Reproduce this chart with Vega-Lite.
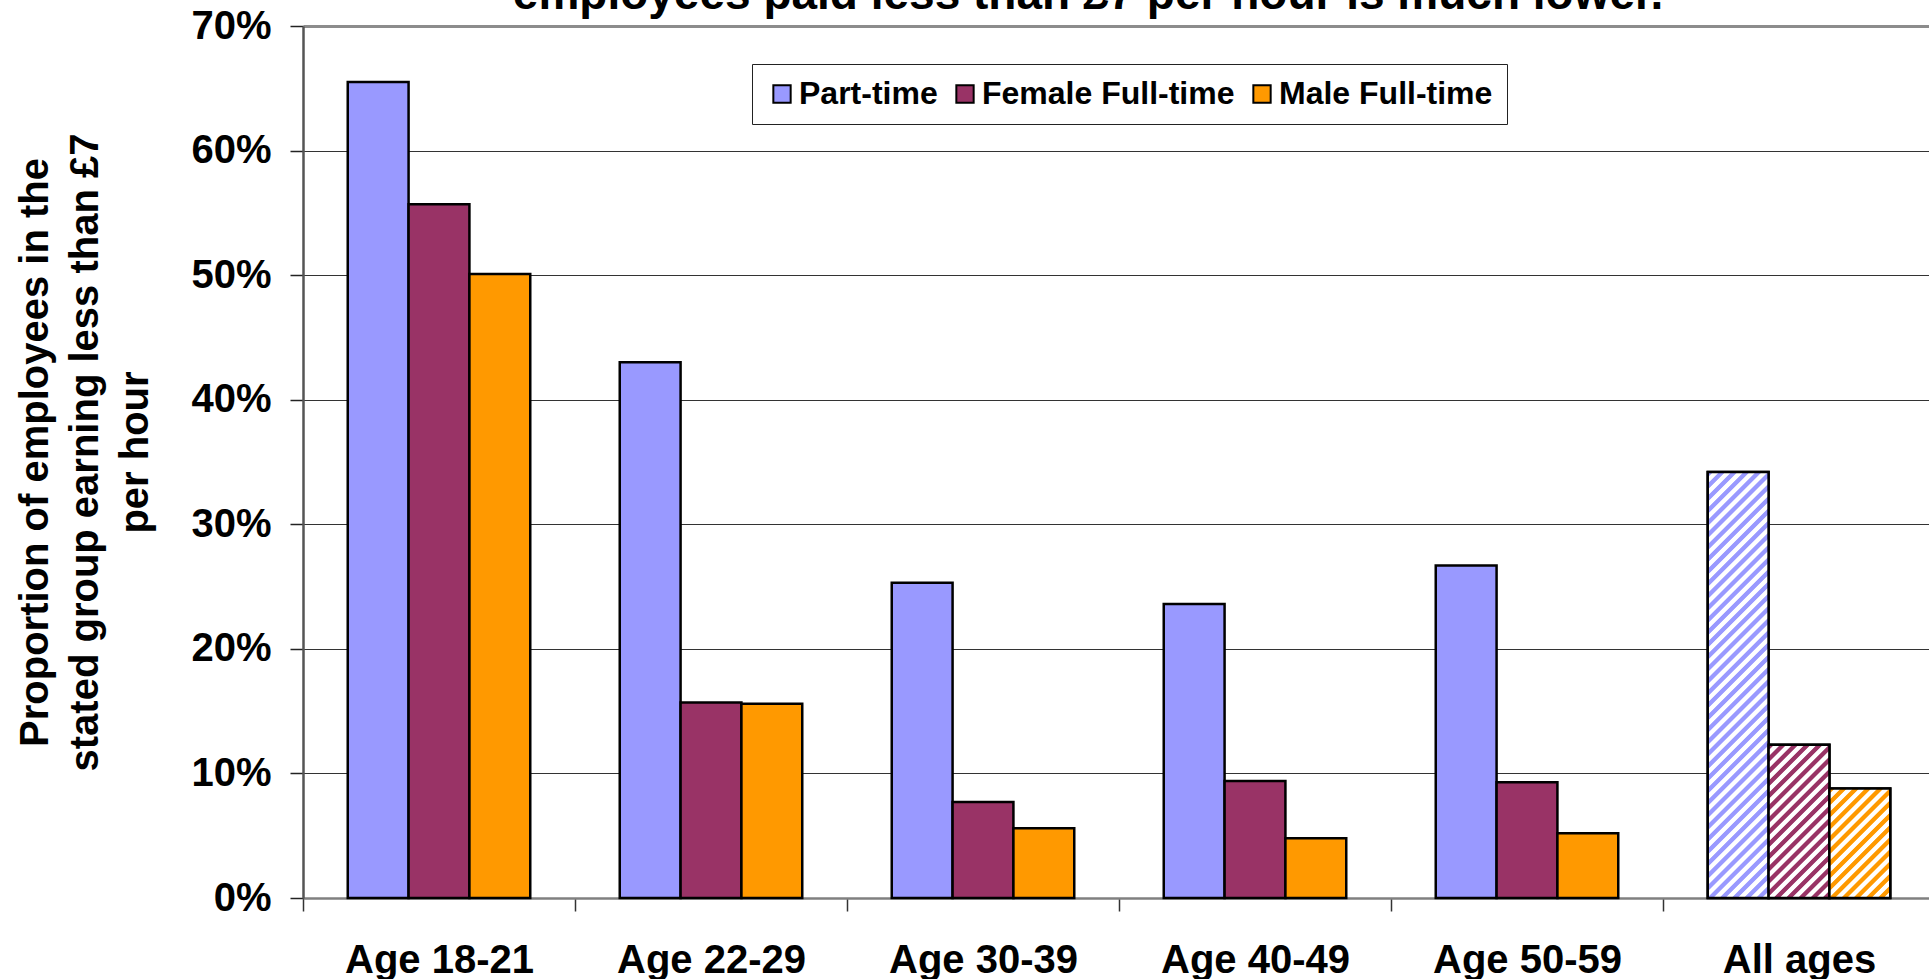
{
  "$schema": "https://vega.github.io/schema/vega-lite/v6.json",
  "autosize": "none",
  "width": 1626,
  "height": 872,
  "padding": {"left": 303, "top": 26, "right": 0, "bottom": 81},
  "config": {"view": {"stroke": null}, "font": "Liberation Sans"},
  "title": {"text": "employees paid less than £7 per hour is much lower.", "fontSize": 46, "font": "Liberation Sans", "fontWeight": "bold", "color": "black", "anchor": "middle", "frame": "group", "baseline": "alphabetic", "offset": 0, "dy": 49, "dx": -28},
  "data": {"values": [
    {"age": "Age 18-21", "series": "Part-time", "value": 0.655},
    {"age": "Age 18-21", "series": "Female Full-time", "value": 0.557},
    {"age": "Age 18-21", "series": "Male Full-time", "value": 0.501},
    {"age": "Age 22-29", "series": "Part-time", "value": 0.430},
    {"age": "Age 22-29", "series": "Female Full-time", "value": 0.157},
    {"age": "Age 22-29", "series": "Male Full-time", "value": 0.156},
    {"age": "Age 30-39", "series": "Part-time", "value": 0.253},
    {"age": "Age 30-39", "series": "Female Full-time", "value": 0.077},
    {"age": "Age 30-39", "series": "Male Full-time", "value": 0.056},
    {"age": "Age 40-49", "series": "Part-time", "value": 0.236},
    {"age": "Age 40-49", "series": "Female Full-time", "value": 0.094},
    {"age": "Age 40-49", "series": "Male Full-time", "value": 0.048},
    {"age": "Age 50-59", "series": "Part-time", "value": 0.267},
    {"age": "Age 50-59", "series": "Female Full-time", "value": 0.093},
    {"age": "Age 50-59", "series": "Male Full-time", "value": 0.052},
    {"age": "All ages", "series": "Part-time", "value": 0.342},
    {"age": "All ages", "series": "Female Full-time", "value": 0.123},
    {"age": "All ages", "series": "Male Full-time", "value": 0.088}
  ]},
  "encoding": {
    "x": {"field": "age", "type": "nominal", "sort": null,
      "scale": {"domain": ["Age 18-21", "Age 22-29", "Age 30-39", "Age 40-49", "Age 50-59", "All ages"], "range": [0, 1632], "paddingInner": 0, "paddingOuter": 0},
      "axis": {"title": null, "labelFontSize": 40, "labelFontWeight": "bold", "labelColor": "black", "labelPadding": 29, "labelAngle": 0, "labelLimit": 0, "tickSize": 13, "tickColor": "#333333", "tickWidth": 1.5, "tickBand": "extent", "domainColor": "#808080", "domainWidth": 2.5, "grid": false}},
    "xOffset": {"field": "series", "type": "nominal", "sort": null,
      "scale": {"domain": ["Part-time", "Female Full-time", "Male Full-time"], "paddingInner": 0, "paddingOuter": 0.7355}},
    "y": {"field": "value", "type": "quantitative",
      "scale": {"domain": [0, 0.7], "nice": false, "zero": true},
      "axis": {"values": [0, 0.1, 0.2, 0.3, 0.4, 0.5, 0.6, 0.7], "format": ".0%", "labelFontSize": 40, "labelFontWeight": "bold", "labelColor": "black", "labelPadding": 19, "tickSize": 13, "tickColor": "#222222", "tickWidth": 1.5, "domainColor": "#555555", "domainWidth": 2.5,
        "grid": true,
        "gridColor": {"condition": {"test": "datum.value >= 0.7", "value": "#8c8c8c"}, "value": "#333333"},
        "gridWidth": {"condition": {"test": "datum.value >= 0.7", "value": 3}, "value": 1.2},
        "title": ["Proportion of employees in the", "stated group earning less than £7", "per hour"],
        "titleFontSize": 40, "titleFontWeight": "bold", "titleColor": "black", "titleLineHeight": 50, "titleAngle": -90, "titleAlign": "center", "titleBaseline": "alphabetic", "titleX": -256, "titleY": 426}}
  },
  "layer": [
    {
      "mark": {"type": "bar", "stroke": "black", "strokeWidth": 2.5},
      "encoding": {
        "color": {"field": "series", "type": "nominal", "sort": null,
          "scale": {"domain": ["Part-time", "Female Full-time", "Male Full-time"], "range": ["#9999ff", "#993366", "#ff9900"]},
          "legend": {"orient": "none", "legendX": 449, "legendY": 38, "direction": "horizontal", "title": null, "symbolType": "square", "symbolSize": 300, "symbolStrokeColor": "black", "symbolStrokeWidth": 2, "symbolOpacity": 1, "labelFontSize": 32, "labelFontWeight": "bold", "labelColor": "black", "labelOffset": 1, "labelLimit": 0, "columnPadding": 11, "padding": 14, "strokeColor": "#222222", "fillColor": "white"}}
      }
    },
    {
      "transform": [{"filter": "datum.age === 'All ages' && datum.series === 'Part-time'"}],
      "mark": {"type": "bar", "stroke": "black", "strokeWidth": 2.5, "fill": {"gradient": "linear", "x1": 0, "y1": 0, "x2": 0.15991, "y2": 1.11996, "stops": [
        {"offset": 0, "color": "#9999ff"}, {"offset": 0.01, "color": "#9999ff"}, {"offset": 0.0125, "color": "#ffffff"}, {"offset": 0.0225, "color": "#ffffff"},
        {"offset": 0.025, "color": "#9999ff"}, {"offset": 0.035, "color": "#9999ff"}, {"offset": 0.0375, "color": "#ffffff"}, {"offset": 0.0475, "color": "#ffffff"},
        {"offset": 0.05, "color": "#9999ff"}, {"offset": 0.06, "color": "#9999ff"}, {"offset": 0.0625, "color": "#ffffff"}, {"offset": 0.0725, "color": "#ffffff"},
        {"offset": 0.075, "color": "#9999ff"}, {"offset": 0.085, "color": "#9999ff"}, {"offset": 0.0875, "color": "#ffffff"}, {"offset": 0.0975, "color": "#ffffff"},
        {"offset": 0.1, "color": "#9999ff"}, {"offset": 0.11, "color": "#9999ff"}, {"offset": 0.1125, "color": "#ffffff"}, {"offset": 0.1225, "color": "#ffffff"},
        {"offset": 0.125, "color": "#9999ff"}, {"offset": 0.135, "color": "#9999ff"}, {"offset": 0.1375, "color": "#ffffff"}, {"offset": 0.1475, "color": "#ffffff"},
        {"offset": 0.15, "color": "#9999ff"}, {"offset": 0.16, "color": "#9999ff"}, {"offset": 0.1625, "color": "#ffffff"}, {"offset": 0.1725, "color": "#ffffff"},
        {"offset": 0.175, "color": "#9999ff"}, {"offset": 0.185, "color": "#9999ff"}, {"offset": 0.1875, "color": "#ffffff"}, {"offset": 0.1975, "color": "#ffffff"},
        {"offset": 0.2, "color": "#9999ff"}, {"offset": 0.21, "color": "#9999ff"}, {"offset": 0.2125, "color": "#ffffff"}, {"offset": 0.2225, "color": "#ffffff"},
        {"offset": 0.225, "color": "#9999ff"}, {"offset": 0.235, "color": "#9999ff"}, {"offset": 0.2375, "color": "#ffffff"}, {"offset": 0.2475, "color": "#ffffff"},
        {"offset": 0.25, "color": "#9999ff"}, {"offset": 0.26, "color": "#9999ff"}, {"offset": 0.2625, "color": "#ffffff"}, {"offset": 0.2725, "color": "#ffffff"},
        {"offset": 0.275, "color": "#9999ff"}, {"offset": 0.285, "color": "#9999ff"}, {"offset": 0.2875, "color": "#ffffff"}, {"offset": 0.2975, "color": "#ffffff"},
        {"offset": 0.3, "color": "#9999ff"}, {"offset": 0.31, "color": "#9999ff"}, {"offset": 0.3125, "color": "#ffffff"}, {"offset": 0.3225, "color": "#ffffff"},
        {"offset": 0.325, "color": "#9999ff"}, {"offset": 0.335, "color": "#9999ff"}, {"offset": 0.3375, "color": "#ffffff"}, {"offset": 0.3475, "color": "#ffffff"},
        {"offset": 0.35, "color": "#9999ff"}, {"offset": 0.36, "color": "#9999ff"}, {"offset": 0.3625, "color": "#ffffff"}, {"offset": 0.3725, "color": "#ffffff"},
        {"offset": 0.375, "color": "#9999ff"}, {"offset": 0.385, "color": "#9999ff"}, {"offset": 0.3875, "color": "#ffffff"}, {"offset": 0.3975, "color": "#ffffff"},
        {"offset": 0.4, "color": "#9999ff"}, {"offset": 0.41, "color": "#9999ff"}, {"offset": 0.4125, "color": "#ffffff"}, {"offset": 0.4225, "color": "#ffffff"},
        {"offset": 0.425, "color": "#9999ff"}, {"offset": 0.435, "color": "#9999ff"}, {"offset": 0.4375, "color": "#ffffff"}, {"offset": 0.4475, "color": "#ffffff"},
        {"offset": 0.45, "color": "#9999ff"}, {"offset": 0.46, "color": "#9999ff"}, {"offset": 0.4625, "color": "#ffffff"}, {"offset": 0.4725, "color": "#ffffff"},
        {"offset": 0.475, "color": "#9999ff"}, {"offset": 0.485, "color": "#9999ff"}, {"offset": 0.4875, "color": "#ffffff"}, {"offset": 0.4975, "color": "#ffffff"},
        {"offset": 0.5, "color": "#9999ff"}, {"offset": 0.51, "color": "#9999ff"}, {"offset": 0.5125, "color": "#ffffff"}, {"offset": 0.5225, "color": "#ffffff"},
        {"offset": 0.525, "color": "#9999ff"}, {"offset": 0.535, "color": "#9999ff"}, {"offset": 0.5375, "color": "#ffffff"}, {"offset": 0.5475, "color": "#ffffff"},
        {"offset": 0.55, "color": "#9999ff"}, {"offset": 0.56, "color": "#9999ff"}, {"offset": 0.5625, "color": "#ffffff"}, {"offset": 0.5725, "color": "#ffffff"},
        {"offset": 0.575, "color": "#9999ff"}, {"offset": 0.585, "color": "#9999ff"}, {"offset": 0.5875, "color": "#ffffff"}, {"offset": 0.5975, "color": "#ffffff"},
        {"offset": 0.6, "color": "#9999ff"}, {"offset": 0.61, "color": "#9999ff"}, {"offset": 0.6125, "color": "#ffffff"}, {"offset": 0.6225, "color": "#ffffff"},
        {"offset": 0.625, "color": "#9999ff"}, {"offset": 0.635, "color": "#9999ff"}, {"offset": 0.6375, "color": "#ffffff"}, {"offset": 0.6475, "color": "#ffffff"},
        {"offset": 0.65, "color": "#9999ff"}, {"offset": 0.66, "color": "#9999ff"}, {"offset": 0.6625, "color": "#ffffff"}, {"offset": 0.6725, "color": "#ffffff"},
        {"offset": 0.675, "color": "#9999ff"}, {"offset": 0.685, "color": "#9999ff"}, {"offset": 0.6875, "color": "#ffffff"}, {"offset": 0.6975, "color": "#ffffff"},
        {"offset": 0.7, "color": "#9999ff"}, {"offset": 0.71, "color": "#9999ff"}, {"offset": 0.7125, "color": "#ffffff"}, {"offset": 0.7225, "color": "#ffffff"},
        {"offset": 0.725, "color": "#9999ff"}, {"offset": 0.735, "color": "#9999ff"}, {"offset": 0.7375, "color": "#ffffff"}, {"offset": 0.7475, "color": "#ffffff"},
        {"offset": 0.75, "color": "#9999ff"}, {"offset": 0.76, "color": "#9999ff"}, {"offset": 0.7625, "color": "#ffffff"}, {"offset": 0.7725, "color": "#ffffff"},
        {"offset": 0.775, "color": "#9999ff"}, {"offset": 0.785, "color": "#9999ff"}, {"offset": 0.7875, "color": "#ffffff"}, {"offset": 0.7975, "color": "#ffffff"},
        {"offset": 0.8, "color": "#9999ff"}, {"offset": 0.81, "color": "#9999ff"}, {"offset": 0.8125, "color": "#ffffff"}, {"offset": 0.8225, "color": "#ffffff"},
        {"offset": 0.825, "color": "#9999ff"}, {"offset": 0.835, "color": "#9999ff"}, {"offset": 0.8375, "color": "#ffffff"}, {"offset": 0.8475, "color": "#ffffff"},
        {"offset": 0.85, "color": "#9999ff"}, {"offset": 0.86, "color": "#9999ff"}, {"offset": 0.8625, "color": "#ffffff"}, {"offset": 0.8725, "color": "#ffffff"},
        {"offset": 0.875, "color": "#9999ff"}, {"offset": 0.885, "color": "#9999ff"}, {"offset": 0.8875, "color": "#ffffff"}, {"offset": 0.8975, "color": "#ffffff"},
        {"offset": 0.9, "color": "#9999ff"}, {"offset": 0.91, "color": "#9999ff"}, {"offset": 0.9125, "color": "#ffffff"}, {"offset": 0.9225, "color": "#ffffff"},
        {"offset": 0.925, "color": "#9999ff"}, {"offset": 0.935, "color": "#9999ff"}, {"offset": 0.9375, "color": "#ffffff"}, {"offset": 0.9475, "color": "#ffffff"},
        {"offset": 0.95, "color": "#9999ff"}, {"offset": 0.96, "color": "#9999ff"}, {"offset": 0.9625, "color": "#ffffff"}, {"offset": 0.9725, "color": "#ffffff"},
        {"offset": 0.975, "color": "#9999ff"}, {"offset": 0.985, "color": "#9999ff"}, {"offset": 0.9875, "color": "#ffffff"}, {"offset": 0.9975, "color": "#ffffff"},
        {"offset": 1, "color": "#9999ff"}
      ]}}
    },
    {
      "transform": [{"filter": "datum.age === 'All ages' && datum.series === 'Female Full-time'"}],
      "mark": {"type": "bar", "stroke": "black", "strokeWidth": 2.5, "fill": {"gradient": "linear", "x1": 0, "y1": 0, "x2": 0.4792, "y2": 1.20681, "stops": [
        {"offset": 0, "color": "#993366"}, {"offset": 0.0228, "color": "#993366"}, {"offset": 0.0285, "color": "#ffffff"}, {"offset": 0.0513, "color": "#ffffff"},
        {"offset": 0.057, "color": "#993366"}, {"offset": 0.0798, "color": "#993366"}, {"offset": 0.0855, "color": "#ffffff"}, {"offset": 0.1083, "color": "#ffffff"},
        {"offset": 0.114, "color": "#993366"}, {"offset": 0.1368, "color": "#993366"}, {"offset": 0.1425, "color": "#ffffff"}, {"offset": 0.1653, "color": "#ffffff"},
        {"offset": 0.171, "color": "#993366"}, {"offset": 0.1938, "color": "#993366"}, {"offset": 0.1995, "color": "#ffffff"}, {"offset": 0.2223, "color": "#ffffff"},
        {"offset": 0.228, "color": "#993366"}, {"offset": 0.2508, "color": "#993366"}, {"offset": 0.2565, "color": "#ffffff"}, {"offset": 0.2793, "color": "#ffffff"},
        {"offset": 0.285, "color": "#993366"}, {"offset": 0.3078, "color": "#993366"}, {"offset": 0.3135, "color": "#ffffff"}, {"offset": 0.3363, "color": "#ffffff"},
        {"offset": 0.342, "color": "#993366"}, {"offset": 0.3648, "color": "#993366"}, {"offset": 0.3705, "color": "#ffffff"}, {"offset": 0.3933, "color": "#ffffff"},
        {"offset": 0.399, "color": "#993366"}, {"offset": 0.4218, "color": "#993366"}, {"offset": 0.4275, "color": "#ffffff"}, {"offset": 0.4503, "color": "#ffffff"},
        {"offset": 0.456, "color": "#993366"}, {"offset": 0.4788, "color": "#993366"}, {"offset": 0.4845, "color": "#ffffff"}, {"offset": 0.5073, "color": "#ffffff"},
        {"offset": 0.513, "color": "#993366"}, {"offset": 0.5358, "color": "#993366"}, {"offset": 0.5415, "color": "#ffffff"}, {"offset": 0.5643, "color": "#ffffff"},
        {"offset": 0.57, "color": "#993366"}, {"offset": 0.5928, "color": "#993366"}, {"offset": 0.5985, "color": "#ffffff"}, {"offset": 0.6213, "color": "#ffffff"},
        {"offset": 0.627, "color": "#993366"}, {"offset": 0.6498, "color": "#993366"}, {"offset": 0.6555, "color": "#ffffff"}, {"offset": 0.6783, "color": "#ffffff"},
        {"offset": 0.684, "color": "#993366"}, {"offset": 0.7068, "color": "#993366"}, {"offset": 0.7125, "color": "#ffffff"}, {"offset": 0.7353, "color": "#ffffff"},
        {"offset": 0.741, "color": "#993366"}, {"offset": 0.7638, "color": "#993366"}, {"offset": 0.7695, "color": "#ffffff"}, {"offset": 0.7923, "color": "#ffffff"},
        {"offset": 0.798, "color": "#993366"}, {"offset": 0.8208, "color": "#993366"}, {"offset": 0.8265, "color": "#ffffff"}, {"offset": 0.8493, "color": "#ffffff"},
        {"offset": 0.855, "color": "#993366"}, {"offset": 0.8778, "color": "#993366"}, {"offset": 0.8835, "color": "#ffffff"}, {"offset": 0.9063, "color": "#ffffff"},
        {"offset": 0.912, "color": "#993366"}, {"offset": 0.9348, "color": "#993366"}, {"offset": 0.9405, "color": "#ffffff"}, {"offset": 0.9633, "color": "#ffffff"},
        {"offset": 0.969, "color": "#993366"}, {"offset": 0.9918, "color": "#993366"}, {"offset": 0.9975, "color": "#ffffff"}, {"offset": 1, "color": "#ffffff"}
      ]}}
    },
    {
      "transform": [{"filter": "datum.age === 'All ages' && datum.series === 'Male Full-time'"}],
      "mark": {"type": "bar", "stroke": "black", "strokeWidth": 2.5, "fill": {"gradient": "linear", "x1": 0, "y1": 0, "x2": 0.65975, "y2": 1.18883, "stops": [
        {"offset": 0, "color": "#ff9900"}, {"offset": 0.0286, "color": "#ff9900"}, {"offset": 0.0357, "color": "#ffffff"}, {"offset": 0.0643, "color": "#ffffff"},
        {"offset": 0.0714, "color": "#ff9900"}, {"offset": 0.1, "color": "#ff9900"}, {"offset": 0.1071, "color": "#ffffff"}, {"offset": 0.1357, "color": "#ffffff"},
        {"offset": 0.1429, "color": "#ff9900"}, {"offset": 0.1714, "color": "#ff9900"}, {"offset": 0.1786, "color": "#ffffff"}, {"offset": 0.2071, "color": "#ffffff"},
        {"offset": 0.2143, "color": "#ff9900"}, {"offset": 0.2429, "color": "#ff9900"}, {"offset": 0.25, "color": "#ffffff"}, {"offset": 0.2786, "color": "#ffffff"},
        {"offset": 0.2857, "color": "#ff9900"}, {"offset": 0.3143, "color": "#ff9900"}, {"offset": 0.3214, "color": "#ffffff"}, {"offset": 0.35, "color": "#ffffff"},
        {"offset": 0.3571, "color": "#ff9900"}, {"offset": 0.3857, "color": "#ff9900"}, {"offset": 0.3929, "color": "#ffffff"}, {"offset": 0.4214, "color": "#ffffff"},
        {"offset": 0.4286, "color": "#ff9900"}, {"offset": 0.4571, "color": "#ff9900"}, {"offset": 0.4643, "color": "#ffffff"}, {"offset": 0.4929, "color": "#ffffff"},
        {"offset": 0.5, "color": "#ff9900"}, {"offset": 0.5286, "color": "#ff9900"}, {"offset": 0.5357, "color": "#ffffff"}, {"offset": 0.5643, "color": "#ffffff"},
        {"offset": 0.5714, "color": "#ff9900"}, {"offset": 0.6, "color": "#ff9900"}, {"offset": 0.6071, "color": "#ffffff"}, {"offset": 0.6357, "color": "#ffffff"},
        {"offset": 0.6429, "color": "#ff9900"}, {"offset": 0.6714, "color": "#ff9900"}, {"offset": 0.6786, "color": "#ffffff"}, {"offset": 0.7071, "color": "#ffffff"},
        {"offset": 0.7143, "color": "#ff9900"}, {"offset": 0.7429, "color": "#ff9900"}, {"offset": 0.75, "color": "#ffffff"}, {"offset": 0.7786, "color": "#ffffff"},
        {"offset": 0.7857, "color": "#ff9900"}, {"offset": 0.8143, "color": "#ff9900"}, {"offset": 0.8214, "color": "#ffffff"}, {"offset": 0.85, "color": "#ffffff"},
        {"offset": 0.8571, "color": "#ff9900"}, {"offset": 0.8857, "color": "#ff9900"}, {"offset": 0.8929, "color": "#ffffff"}, {"offset": 0.9214, "color": "#ffffff"},
        {"offset": 0.9286, "color": "#ff9900"}, {"offset": 0.9571, "color": "#ff9900"}, {"offset": 0.9643, "color": "#ffffff"}, {"offset": 0.9929, "color": "#ffffff"},
        {"offset": 1, "color": "#ff9900"}
      ]}}
    }
  ]
}
